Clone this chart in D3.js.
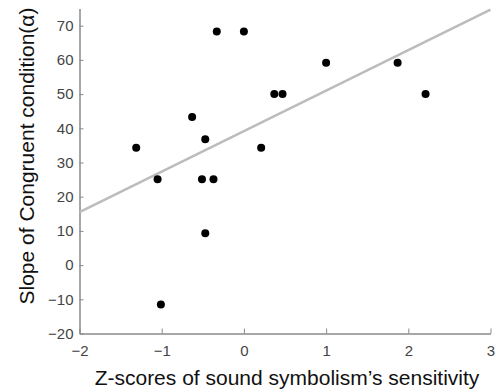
<!DOCTYPE html>
<html>
<head>
<meta charset="utf-8">
<script src="https://cdn.jsdelivr.net/npm/d3@7"></script>
<style>
  body { margin: 0; background: #fff; }
  svg { display: block; }
</style>
</head>
<body>
<svg id="chart" width="496" height="392"></svg>
<script>
// scatter points
const zScores = [-1.31, -1.05, -0.63, -0.47, -0.51, -0.37, -0.33, 0.0, 1.0, 0.37, 0.47, 1.87, 2.21, 0.21, -0.47, -1.01];
const slopes = [34.3, 25.1, 43.3, 36.8, 25.1, 25.1, 68.3, 68.3, 59.2, 50, 50, 59.2, 50, 34.3, 9.3, -11.5];

// fitted line endpoints
const fitX = [-2, 3];
const fitY = [15.5, 74.7];

const xTicks = [-2, -1, 0, 1, 2, 3];
const yTicks = [-20, -10, 0, 10, 20, 30, 40, 50, 60, 70];

const xLabel = "Z-scores of sound symbolism\u2019s sensitivity";
const yLabel = "Slope of Congruent condition(\u03b1)";

const FONT = "'Liberation Sans', Arial, sans-serif";
const AXIS_COLOR = "#8a8a8a";
const TICK_TEXT = "#444";

const svg = d3.select("#chart");

const x = d3.scaleLinear().domain([-2, 3]).range([79.5, 490.5]);
const y = d3.scaleLinear().domain([-20, 75]).range([333.5, 8.6]);

const fmt = d => d < 0 ? "\u2212" + Math.abs(d) : d;

// axes
const xAxis = svg.append("g")
  .attr("transform", `translate(0,${y(-20)})`)
  .call(d3.axisBottom(x).tickValues(xTicks).tickSizeInner(-5).tickSizeOuter(0).tickFormat(fmt));

const yAxis = svg.append("g")
  .attr("transform", `translate(${x(-2)},0)`)
  .call(d3.axisLeft(y).tickValues(yTicks).tickSizeInner(-4).tickSizeOuter(0).tickPadding(6).tickFormat(fmt));

[xAxis, yAxis].forEach(g => {
  g.select(".domain").attr("stroke", AXIS_COLOR).attr("stroke-width", 1.5);
  g.selectAll(".tick line").attr("stroke", AXIS_COLOR).attr("stroke-width", 1);
  g.selectAll(".tick text")
    .attr("fill", TICK_TEXT)
    .style("font-family", FONT)
    .style("font-size", "15px");
});
xAxis.selectAll(".tick text").attr("y", 22.5).attr("dy", 0);

// regression line
const line = d3.line().x(d => x(d[0])).y(d => y(d[1]));
svg.append("path")
  .datum(d3.zip(fitX, fitY))
  .attr("d", line)
  .attr("fill", "none")
  .attr("stroke", "#bcbcbc")
  .attr("stroke-width", 2.5);

// points
svg.append("g")
  .selectAll("circle")
  .data(d3.zip(zScores, slopes))
  .join("circle")
  .attr("cx", d => x(d[0]))
  .attr("cy", d => y(d[1]))
  .attr("r", 4)
  .attr("fill", "#000");

// axis titles
svg.append("text")
  .attr("x", 287)
  .attr("y", 384.5)
  .attr("text-anchor", "middle")
  .style("font-family", FONT)
  .style("font-size", "21px")
  .attr("fill", "#111")
  .text(xLabel);

svg.append("text")
  .attr("transform", `translate(34,156) rotate(-90)`)
  .attr("text-anchor", "middle")
  .style("font-family", FONT)
  .style("font-size", "21px")
  .attr("fill", "#111")
  .text(yLabel);
</script>
</body>
</html>
